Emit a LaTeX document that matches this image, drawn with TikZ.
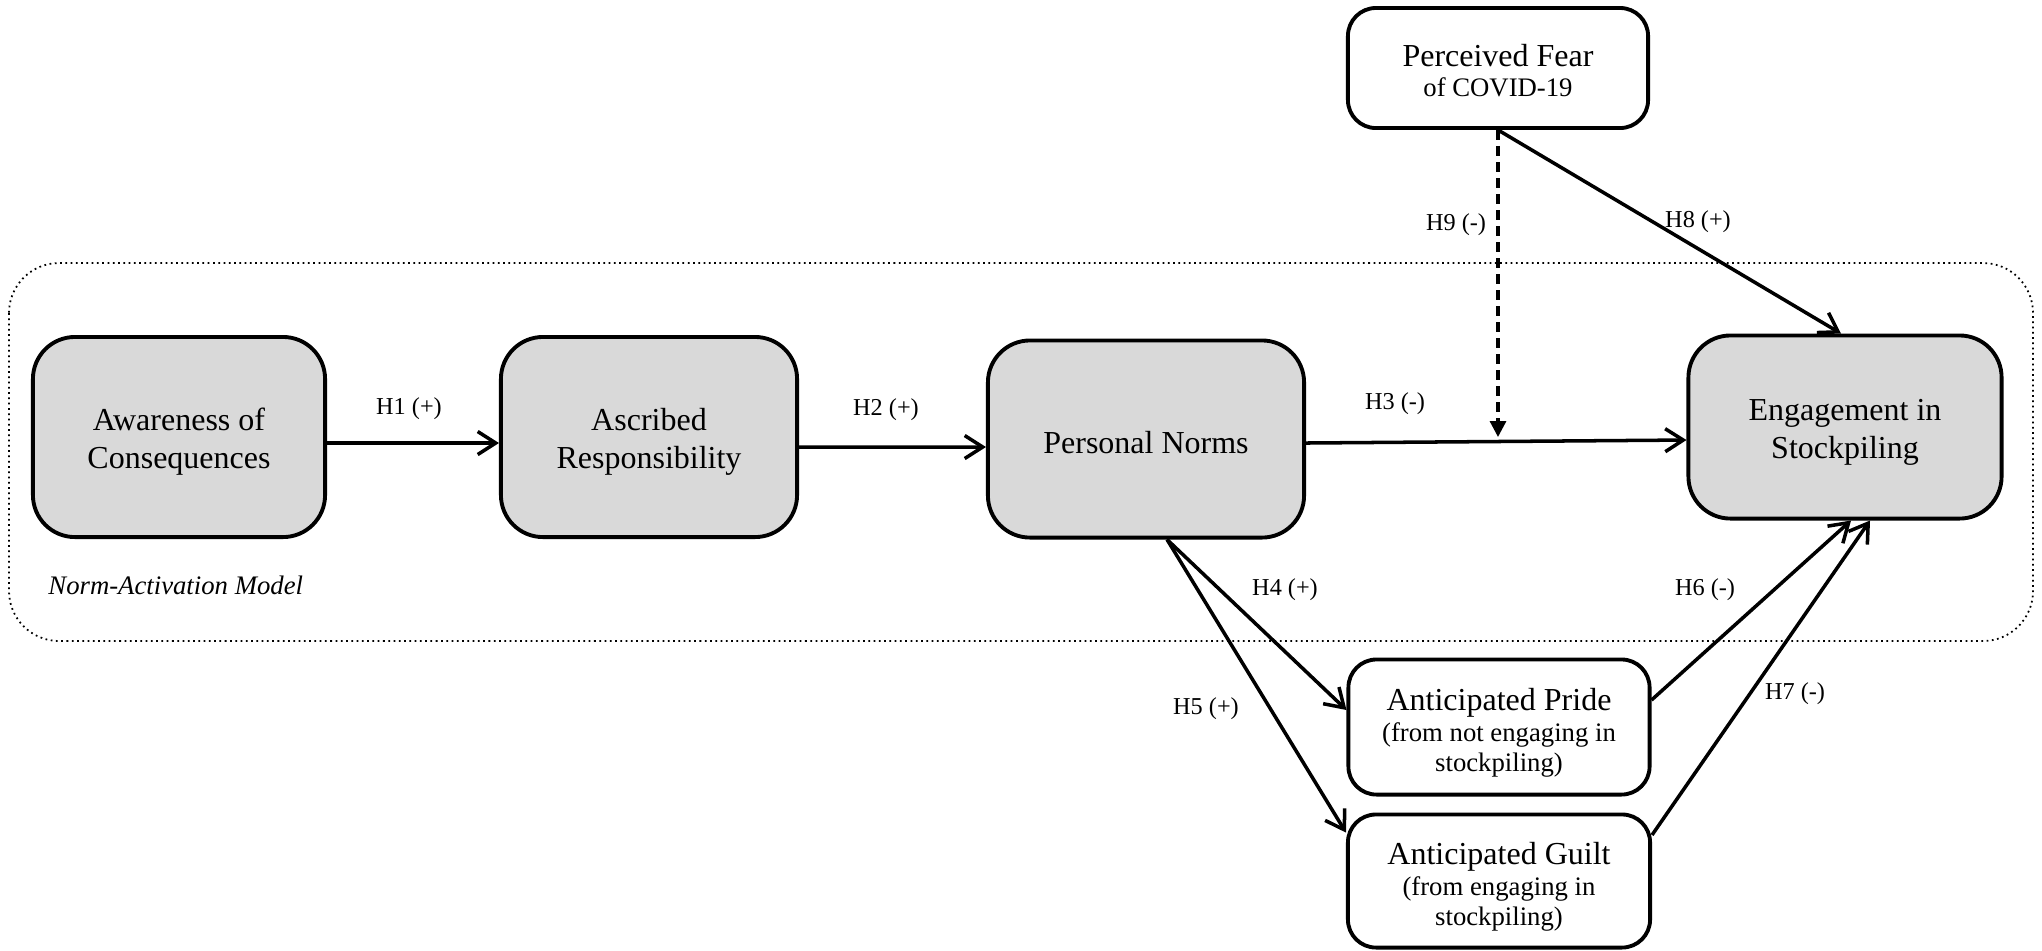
\documentclass[tikz,border=0pt]{standalone}
\usepackage{fontspec}
\setmainfont{Liberation Serif}
\definecolor{BoxGray}{RGB}{217,217,217}
\usetikzlibrary{arrows.meta, positioning, calc}
\newcommand{\boxtxt}{\fontsize{9.1}{10.8}\selectfont}
\newcommand{\subtxt}{\fontsize{7.6}{8.6}\selectfont}
\newcommand{\hyptxt}{\fontsize{6.9}{8}\selectfont}
% strut that pushes the box text a little down
\newcommand{\lowr}[1]{\rule{0pt}{#1}}

\begin{document}
\begin{tikzpicture}[x=0.01cm, y=-0.01cm,
    core/.style={draw, line width=1.1pt, fill=BoxGray, rounded corners=0.42cm,
                 align=center, font=\boxtxt, inner sep=0pt},
    side/.style={draw, line width=1.1pt, fill=white, rounded corners=0.28cm,
                 align=center, font=\boxtxt, inner sep=0pt},
    link/.style={-{Straight Barb[length=1.8mm,width=2.3mm,line width=1pt]}, line width=1pt},
    hyp/.style={font=\hyptxt, yshift=-0.04cm}]
  \useasboundingbox (0,0) rectangle (2042,950);
  % Norm-Activation Model frame
  \draw[densely dotted, line width=0.5pt, rounded corners=0.5cm] (9,263) rectangle (2033,641);
  \node[font=\subtxt\itshape, anchor=west] (nam) at (36,585) {Norm-Activation Model};
  % constructs
  \node[core, minimum width=2.92cm, minimum height=2.0cm] (aware) at (179,437)
        {\lowr{9.0pt}Awareness of\\Consequences};
  \node[core, minimum width=2.96cm, minimum height=2.0cm] (ascr) at (649,437)
        {\lowr{9.0pt}Ascribed\\Responsibility};
  \node[core, minimum width=3.16cm, minimum height=1.97cm] (norms) at (1146,439)
        {\lowr{8.6pt}Personal Norms};
  \node[core, minimum width=3.13cm, minimum height=1.83cm] (engage) at (1845,427)
        {\lowr{9.0pt}Engagement in\\Stockpiling};
  \node[side, minimum width=3.0cm, minimum height=1.2cm] (fear) at (1498,68)
        {\lowr{7.6pt}Perceived Fear\\[-2.3pt]{\subtxt of COVID-19}};
  \node[side, minimum width=3.01cm, minimum height=1.35cm] (pride) at (1499,727)
        {\lowr{9.4pt}Anticipated Pride\\[-1.8pt]{\subtxt (from not engaging in}\\[-2.5pt]{\subtxt stockpiling)}};
  \node[side, minimum width=3.02cm, minimum height=1.33cm] (guilt) at (1499,881)
        {\lowr{9.4pt}Anticipated Guilt\\[-1.8pt]{\subtxt (from engaging in}\\[-2.5pt]{\subtxt stockpiling)}};
  % hypotheses
  \draw[link] ([yshift=-0.06cm]aware.east) -- ([yshift=-0.06cm]ascr.west);
  \draw[link] ([yshift=-0.1cm]ascr.east) -- ([yshift=-0.08cm]norms.west);
  \draw[link] ([yshift=-0.04cm]norms.east) -- ([yshift=-0.13cm]engage.west);
  \coordinate (mod) at ($(fear.south |- norms.east)+(0,-2)$);
  \draw[line width=0.9pt, dash pattern=on 1mm off 0.6mm,
        -{Triangle[length=1.6mm,width=1.6mm]}] (fear.south) -- (mod);
  \draw[link] (fear.south) -- ([xshift=-0.04cm]engage.north);
  \coordinate (nb) at ([xshift=0.21cm]norms.south);
  \draw[link] (nb) -- ([yshift=0.17cm]pride.west);
  \draw[link] (nb) -- ([yshift=-0.2cm]guilt.north west);
  \draw[link] ([yshift=0.27cm]pride.east) -- ([xshift=0.06cm]engage.south);
  \draw[link] ([yshift=0.46cm]guilt.east) -- ([xshift=0.25cm]engage.south);
  % labels
  \node[hyp] (h1) at (409,405) {H1 (+)};
  \node[hyp] (h2) at (886,406) {H2 (+)};
  \node[hyp] (h3) at (1395,400) {H3 (-)};
  \node[hyp] (h4) at (1285,586) {H4 (+)};
  \node[hyp] (h5) at (1206,705) {H5 (+)};
  \node[hyp] (h6) at (1705,586) {H6 (-)};
  \node[hyp] (h7) at (1795,690) {H7 (-)};
  \node[hyp] (h8) at (1698,218) {H8 (+)};
  \node[hyp] (h9) at (1456,221) {H9 (-)};
\end{tikzpicture}
\end{document}
